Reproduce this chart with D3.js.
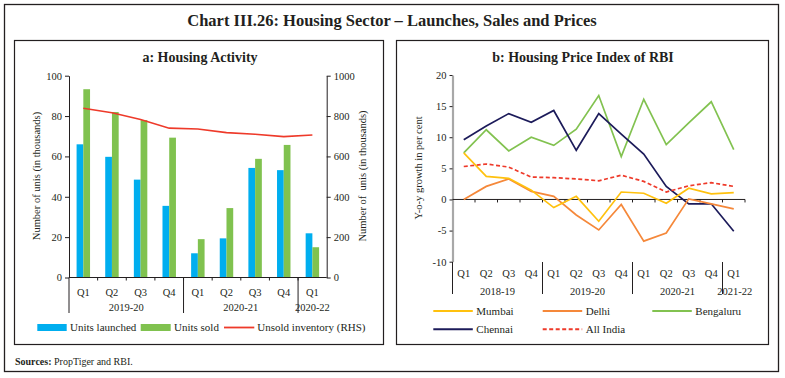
<!DOCTYPE html>
<html><head><meta charset="utf-8">
<script src="https://cdn.jsdelivr.net/npm/d3@7"></script>
<style>
body{margin:0;background:#fff;}
text{font-family:"Liberation Serif","DejaVu Serif",serif;fill:#231f20;}
</style></head>
<body><svg id="c" width="785" height="378"></svg>
<script>
// ---- Panel a data ----
const quartersA = ["Q1","Q2","Q3","Q4","Q1","Q2","Q3","Q4","Q1"];
const yearsA = [{label:"2019-20",start:0,end:4},{label:"2020-21",start:4,end:8},{label:"2020-22",start:8,end:9}];
const unitsLaunched = [66,59.8,48.5,35.5,12,19.4,54.3,53.2,21.9];
const unitsSold = [93.3,82,78,69.3,19,34.4,58.8,65.7,15];
const unsoldInventory = [839,816,783,740,736,718,710,698,706];
const leftTicks = [0,20,40,60,80,100];
const rightTicks = [0,200,400,600,800,1000];

// ---- Panel b data ----
const quartersB = ["Q1","Q2","Q3","Q4","Q1","Q2","Q3","Q4","Q1","Q2","Q3","Q4","Q1"];
const yearsB = [{label:"2018-19",start:0,end:4},{label:"2019-20",start:4,end:8},{label:"2020-21",start:8,end:12},{label:"2021-22",start:12,end:13}];
const mumbai = [7.5,3.7,3.4,1.5,-1.3,0.5,-3.5,1.2,1.0,-0.6,1.8,0.9,1.1];
const delhi = [0,2.1,3.3,1.3,0.5,-2.5,-4.9,-0.8,-6.7,-5.4,0.1,-0.7,-1.5];
const bengaluru = [7.5,11.2,7.8,10.0,8.7,11.3,16.7,6.9,16.1,8.8,12.3,15.7,8.0];
const chennai = [9.6,11.8,13.8,12.4,14.3,7.9,13.8,10.5,7.3,2.1,-0.7,-0.7,-5.1];
const allIndia = [5.3,5.7,5.2,3.6,3.5,3.3,3.0,3.9,2.9,1.2,2.2,2.7,2.1];
const bTicks = [-10,-5,0,5,10,15,20];

const C = {blue:"#00AEEF",green:"#80C24F",red:"#EE3A2A",mumbai:"#FFC10E",delhi:"#F5883A",beng:"#82C250",chennai:"#1C1B5A",allIndia:"#EE3A2A",ink:"#231f20"};

const svg = d3.select("#c");

// frames
svg.append("rect").attr("x",4.5).attr("y",4.5).attr("width",774).attr("height",367).attr("fill","none").attr("stroke",C.ink).attr("stroke-width",1.3);
svg.append("rect").attr("x",14.5).attr("y",40.5).attr("width",369).attr("height",304).attr("fill","none").attr("stroke",C.ink).attr("stroke-width",1.2);
svg.append("rect").attr("x",396.5).attr("y",40.5).attr("width",372).attr("height",304).attr("fill","none").attr("stroke",C.ink).attr("stroke-width",1.2);

svg.append("text").attr("x",392).attr("y",26).attr("text-anchor","middle").attr("font-size",16.5).attr("font-weight",600)
  .text("Chart III.26: Housing Sector – Launches, Sales and Prices");

const src = svg.append("text").attr("x",15).attr("y",365).attr("font-size",10);
src.append("tspan").attr("font-weight","bold").text("Sources:");
src.append("tspan").text(" PropTiger and RBI.");

// ================= Panel a =================
const gA = svg.append("g");
gA.append("text").attr("x",200).attr("y",62).attr("text-anchor","middle").attr("font-size",14).attr("font-weight","bold").text("a: Housing Activity");

const xA = d3.scaleBand().domain(d3.range(quartersA.length)).range([69,326.7]).padding(0);
const yL = d3.scaleLinear().domain([0,100]).range([277.5,75.7]);
const yR = d3.scaleLinear().domain([0,1000]).range([277.5,75.7]);
const bw = xA.bandwidth()*0.235;

gA.selectAll(".bl").data(unitsLaunched).join("rect")
  .attr("x",(d,i)=>xA(i)+xA.bandwidth()/2-bw).attr("width",bw)
  .attr("y",d=>yL(d)).attr("height",d=>yL(0)-yL(d)).attr("fill",C.blue);
gA.selectAll(".bs").data(unitsSold).join("rect")
  .attr("x",(d,i)=>xA(i)+xA.bandwidth()/2).attr("width",bw)
  .attr("y",d=>yL(d)).attr("height",d=>yL(0)-yL(d)).attr("fill",C.green);

gA.append("path").datum(unsoldInventory)
  .attr("d",d3.line().x((d,i)=>xA(i)+xA.bandwidth()/2).y(d=>yR(d)))
  .attr("fill","none").attr("stroke",C.red).attr("stroke-width",1.6);

function styleAxis(g){
  g.selectAll("path.domain").attr("stroke",C.ink);
  g.selectAll(".tick line").attr("stroke",C.ink);
  g.selectAll(".tick text").attr("font-family","Liberation Serif").attr("font-size",10.5).attr("fill",C.ink);
}
gA.append("g").attr("transform","translate(69,0)")
  .call(d3.axisLeft(yL).tickValues(leftTicks).tickFormat(d3.format("d")).tickSize(4).tickSizeOuter(0).tickPadding(3)).call(styleAxis);
gA.append("g").attr("transform","translate(326.7,0)")
  .call(d3.axisRight(yR).tickValues(rightTicks).tickFormat(d3.format("d")).tickSize(4).tickSizeOuter(0).tickPadding(3)).call(styleAxis);

// x axis a
const baseA = yL(0);
gA.append("line").attr("x1",69).attr("x2",326.7).attr("y1",baseA).attr("y2",baseA).attr("stroke",C.ink);
gA.selectAll(".tk").data(d3.range(1,quartersA.length)).join("line")
  .attr("x1",d=>xA(d)).attr("x2",d=>xA(d)).attr("y1",baseA).attr("y2",baseA+3).attr("stroke",C.ink);
gA.selectAll(".ql").data(quartersA).join("text")
  .attr("x",(d,i)=>xA(i)+xA.bandwidth()/2).attr("y",296).attr("text-anchor","middle").attr("font-size",10.5).text(d=>d);
gA.selectAll(".sep").data(yearsA).join("line")
  .attr("x1",d=>xA(d.start)).attr("x2",d=>xA(d.start)).attr("y1",baseA).attr("y2",313).attr("stroke",C.ink);
gA.selectAll(".yl").data(yearsA).join("text")
  .attr("x",d=>(xA(d.start)+(d.end<quartersA.length?xA(d.end):326.7))/2).attr("y",311).attr("text-anchor","middle").attr("font-size",10.5).text(d=>d.label);

gA.append("text").attr("transform","translate(40,176) rotate(-90)").attr("text-anchor","middle").attr("font-size",10.5).text("Number of unis (in thousands)");
gA.append("text").attr("transform","translate(366,176) rotate(-90)").attr("text-anchor","middle").attr("font-size",10.5).style("white-space","pre").text("Number of  unis (in thousands)");

// legend a
const lgA = gA.append("g");
lgA.append("rect").attr("x",37.3).attr("y",324).attr("width",29.4).attr("height",7).attr("fill",C.blue);
lgA.append("text").attr("x",70).attr("y",331).attr("font-size",11).text("Units launched");
lgA.append("rect").attr("x",140.7).attr("y",324).attr("width",30).attr("height",7).attr("fill",C.green);
lgA.append("text").attr("x",174).attr("y",331).attr("font-size",11).text("Units sold");
lgA.append("line").attr("x1",224).attr("x2",254.3).attr("y1",327.5).attr("y2",327.5).attr("stroke",C.red).attr("stroke-width",1.8);
lgA.append("text").attr("x",257.3).attr("y",331).attr("font-size",11).text("Unsold inventory (RHS)");

// ================= Panel b =================
const gB = svg.append("g");
gB.append("text").attr("x",583).attr("y",62).attr("text-anchor","middle").attr("font-size",14).attr("font-weight","bold").text("b: Housing Price Index of RBI");

const xB = d3.scaleBand().domain(d3.range(quartersB.length)).range([452.5,745]).padding(0);
const yB = d3.scaleLinear().domain([-10,20]).range([261.7,75]);

const yAxB = gB.append("g").attr("transform","translate(452.5,0)")
  .call(d3.axisLeft(yB).tickValues(bTicks).tickFormat(d3.format("d")).tickSize(3).tickSizeOuter(0).tickPadding(3)).call(styleAxis);
yAxB.select("path.domain").attr("stroke","#a8a8a8").attr("stroke-width",2.2);
yAxB.selectAll(".tick text").text(d=>String(d));

const zB = yB(0);
gB.append("line").attr("x1",452.5).attr("x2",745).attr("y1",zB).attr("y2",zB).attr("stroke",C.ink);
gB.selectAll(".tk").data(d3.range(1,quartersB.length+1)).join("line")
  .attr("x1",d=>452.5+d*xB.bandwidth()).attr("x2",d=>452.5+d*xB.bandwidth()).attr("y1",zB).attr("y2",zB+3).attr("stroke",C.ink);

gB.selectAll(".ql").data(quartersB).join("text")
  .attr("x",(d,i)=>xB(i)+xB.bandwidth()/2).attr("y",277).attr("text-anchor","middle").attr("font-size",10.5).text(d=>d);
gB.selectAll(".sep").data(yearsB).join("line")
  .attr("x1",d=>xB(d.start)).attr("x2",d=>xB(d.start)).attr("y1",262).attr("y2",294).attr("stroke",C.ink);
gB.selectAll(".yl").data(yearsB).join("text")
  .attr("x",d=>(xB(d.start)+(d.end<quartersB.length?xB(d.end):745))/2+(d.end===quartersB.length?1:0)).attr("y",295).attr("text-anchor","middle").attr("font-size",10.5).text(d=>d.label);

gB.append("text").attr("transform","translate(422,168) rotate(-90)").attr("text-anchor","middle").attr("font-size",10.5).text("Y-o-y growth in per cent");

const lineB = d3.line().x((d,i)=>xB(i)+xB.bandwidth()/2).y(d=>yB(d));
const seriesB = [
  {name:"Bengaluru",data:bengaluru,color:C.beng,dash:null},
  {name:"Chennai",data:chennai,color:C.chennai,dash:null},
  {name:"All India",data:allIndia,color:C.allIndia,dash:"4,2.5"},
  {name:"Delhi",data:delhi,color:C.delhi,dash:null},
  {name:"Mumbai",data:mumbai,color:C.mumbai,dash:null}
];
gB.selectAll(".ln").data(seriesB).join("path")
  .attr("d",d=>lineB(d.data)).attr("fill","none").attr("stroke",d=>d.color)
  .attr("stroke-width",1.7).attr("stroke-dasharray",d=>d.dash);

// legend b
const legB = [
  {name:"Mumbai",color:C.mumbai,dash:null,x:433.3,y:311},
  {name:"Delhi",color:C.delhi,dash:null,x:542.7,y:311},
  {name:"Bengaluru",color:C.beng,dash:null,x:652.3,y:311},
  {name:"Chennai",color:C.chennai,dash:null,x:433.3,y:329.3},
  {name:"All India",color:C.allIndia,dash:"4,2.5",x:542.7,y:329.3}
];
const lg = gB.selectAll(".lg").data(legB).join("g");
lg.append("line").attr("x1",d=>d.x).attr("x2",d=>d.x+39.5).attr("y1",d=>d.y).attr("y2",d=>d.y)
  .attr("stroke",d=>d.color).attr("stroke-width",2).attr("stroke-dasharray",d=>d.dash);
lg.append("text").attr("x",d=>d.x+43).attr("y",d=>d.y+3.7).attr("font-size",11).text(d=>d.name);
</script></body></html>
